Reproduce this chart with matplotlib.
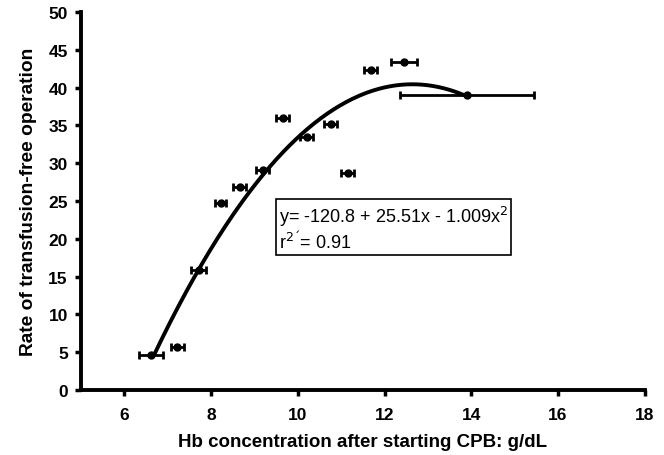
import numpy as np
import matplotlib.pyplot as plt

plt.rcParams['font.family'] = ['Liberation Sans', 'DejaVu Sans']

# Hb concentration (g/dL), rate of transfusion-free operation (%), x error
hb = [6.62, 7.22, 7.71, 8.22, 8.66, 9.19, 9.65, 10.2, 10.76, 11.15, 11.68, 12.44, 13.9]
rate = [4.6, 5.7, 15.9, 24.7, 26.9, 29.1, 36.0, 33.5, 35.2, 28.7, 42.3, 43.4, 39.0]
hb_err = [0.28, 0.15, 0.17, 0.13, 0.15, 0.15, 0.15, 0.15, 0.15, 0.15, 0.15, 0.3, 1.55]

# quadratic fit shown in the box
b0, b1, b2 = -120.8, 25.51, -1.009

fig = plt.figure(figsize=(6.64, 4.56), dpi=100)
ax = fig.add_axes([0.122, 0.1425, 0.849, 0.829])

ax.errorbar(hb, rate, xerr=hb_err, fmt='o', color='black', ms=5,
            elinewidth=2, capsize=3.2, capthick=2)

xf = np.linspace(min(hb) + 0.08, max(hb), 200)
ax.plot(xf, b0 + b1 * xf + b2 * xf ** 2, color='black', lw=2.8)

ax.set_xlim(5, 18)
ax.set_ylim(0, 50)
ax.set_xticks([6, 8, 10, 12, 14, 16, 18])
ax.set_yticks(range(0, 51, 5))
for s in ['top', 'right']:
    ax.spines[s].set_visible(False)
for s in ['left', 'bottom']:
    ax.spines[s].set_linewidth(2.8)
ax.tick_params(width=2.5, length=4.5, labelsize=12.5, pad=5)
for lab in ax.get_xticklabels() + ax.get_yticklabels():
    lab.set_fontweight('bold')
ax.xaxis.set_tick_params(pad=8)

ax.set_xlabel('Hb concentration after starting CPB: g/dL', fontsize=13.5,
              fontweight='bold', labelpad=8)
ax.set_ylabel('Rate of transfusion-free operation', fontsize=13.8,
              fontweight='bold', labelpad=8)

ax.text(9.57, 21.4, 'y= -120.8 + 25.51x - 1.009x$^2$\nr$^{2\u00b4}$= 0.91',
        fontsize=13, va='center', ha='left', linespacing=1.15,
        bbox=dict(boxstyle='square,pad=0.15', fc='white', ec='black', lw=1.2))

fig.savefig('out.png', dpi=100)
